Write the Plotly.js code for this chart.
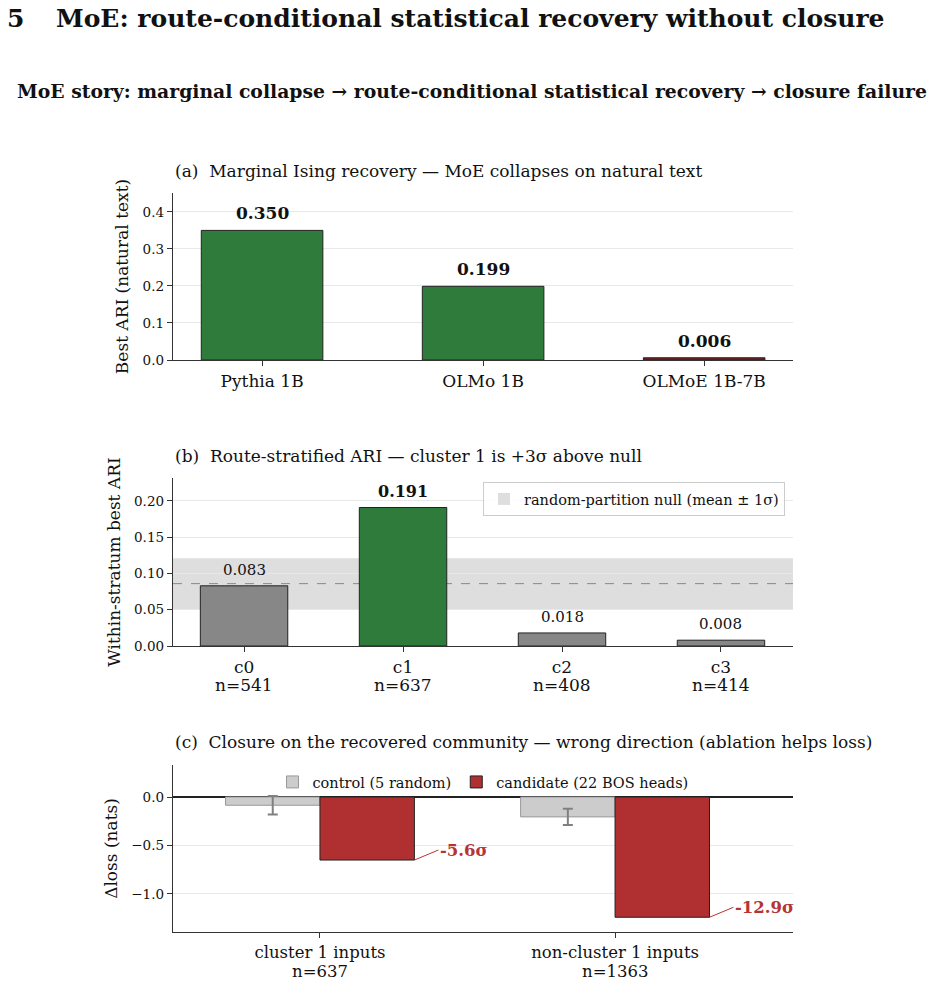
<!DOCTYPE html>
<html><head><meta charset="utf-8">
<script src="https://cdn.plot.ly/plotly-3.0.1.min.js"></script>
<style>html,body{margin:0;padding:0;background:#fff}</style>
</head><body><div id="chart" style="width:934px;height:983px"></div>
<script>
// ---- data ----
const modelNames = ['Pythia 1B', 'OLMo 1B', 'OLMoE 1B-7B'];
const marginalARI = [0.350, 0.199, 0.006];
const clusterNames = ['c0', 'c1', 'c2', 'c3'];
const clusterN = [541, 637, 408, 414];
const stratARI = [0.083, 0.191, 0.018, 0.008];
const nullMean = 0.086;
const nullSd = 0.035;
const inputGroups = ['cluster 1 inputs', 'non-cluster 1 inputs'];
const groupN = [637, 1363];
const controlLoss = [-0.085, -0.205];
const controlErr = [0.095, 0.083];
const candidateLoss = [-0.65, -1.24];
const candidateSigma = [-5.6, -12.9];

// ---- styles ----
const FONT = 'DejaVu Serif';
const GREEN = '#2e7b3b', GREY = '#878787', RED = '#b03031', DARKRED = '#7a1e1e', TXTRED = '#b83434';
const W = 934, H = 983;
const px = v => v / W, py = v => 1 - v / H;
const xDom = [px(173), px(793)];

const idx = a => a.map((_, i) => i);
const best = stratARI.indexOf(Math.max(...stratARI));

const traces = [
  { type: 'bar', x: idx(modelNames), y: marginalARI, xaxis: 'x', yaxis: 'y', width: 0.55,
    marker: { color: marginalARI.map((v, i) => i === modelNames.length - 1 ? DARKRED : GREEN), line: { color: '#222', width: 1 } },
    showlegend: false, hoverinfo: 'skip' },
  { type: 'bar', x: idx(clusterNames), y: stratARI, xaxis: 'x2', yaxis: 'y2', width: 0.55,
    marker: { color: stratARI.map((v, i) => i === best ? GREEN : GREY), line: { color: '#222', width: 1 } },
    showlegend: false, hoverinfo: 'skip' },
  { type: 'bar', x: idx(inputGroups), y: controlLoss, xaxis: 'x3', yaxis: 'y3', width: 0.32, offset: -0.32,
    name: 'control (5 random)', legend: 'legend2',
    marker: { color: '#cccccc', line: { color: '#999', width: 1 } },
    error_y: { type: 'data', array: controlErr, visible: true, color: '#808080', thickness: 2, width: 5 },
    hoverinfo: 'skip' },
  { type: 'bar', x: idx(inputGroups), y: candidateLoss, xaxis: 'x3', yaxis: 'y3', width: 0.32, offset: 0,
    name: 'candidate (22 BOS heads)', legend: 'legend2',
    marker: { color: RED, line: { color: '#222', width: 1 } },
    hoverinfo: 'skip' }
];

const baseX = {
  domain: xDom, showgrid: false, zeroline: false, showline: true, linecolor: '#333', linewidth: 1.2,
  ticks: 'outside', ticklen: 5, tickcolor: '#333', tickfont: { family: FONT, size: 17, color: '#111' }
};
const baseY = {
  showgrid: true, gridcolor: '#e8e8e8', gridwidth: 1, zeroline: false, showline: true, linecolor: '#333', linewidth: 1.2,
  ticks: 'outside', ticklen: 5, tickcolor: '#333', tickfont: { family: FONT, size: 13.5, color: '#111' }
};

const TT = { family: FONT, size: 17, color: '#111' };
const annotations = [
  { xref: 'paper', yref: 'paper', x: px(5), y: py(18), xanchor: 'left', yanchor: 'middle', showarrow: false,
    text: '<b>5</b>', font: { family: FONT, size: 25, color: '#111' } },
  { xref: 'paper', yref: 'paper', x: px(54), y: py(18), xanchor: 'left', yanchor: 'middle', showarrow: false,
    text: '<b>MoE: route-conditional statistical recovery without closure</b>',
    font: { family: FONT, size: 25, color: '#111' } },
  { xref: 'paper', yref: 'paper', x: px(472), y: py(91), xanchor: 'center', yanchor: 'middle', showarrow: false,
    text: '<b>MoE story: marginal collapse \u2192 route-conditional statistical recovery \u2192 closure failure</b>',
    font: { family: FONT, size: 18.8, color: '#111' } },
  { xref: 'paper', yref: 'paper', x: px(173), y: py(171), xanchor: 'left', yanchor: 'middle', showarrow: false,
    text: '(a)  Marginal Ising recovery \u2014 MoE collapses on natural text', font: TT },
  { xref: 'paper', yref: 'paper', x: px(173), y: py(456), xanchor: 'left', yanchor: 'middle', showarrow: false,
    text: '(b)  Route-stratified ARI \u2014 cluster 1 is +3\u03c3 above null', font: TT },
  { xref: 'paper', yref: 'paper', x: px(173), y: py(742), xanchor: 'left', yanchor: 'middle', showarrow: false,
    text: '(c)  Closure on the recovered community \u2014 wrong direction (ablation helps loss)', font: TT }
];
marginalARI.forEach((v, i) => annotations.push({
  xref: 'x', yref: 'y', x: i, y: v, yanchor: 'bottom', yshift: 5, showarrow: false,
  text: '<b>' + v.toFixed(3) + '</b>', font: { family: FONT, size: 17, color: '#111' } }));
stratARI.forEach((v, i) => annotations.push({
  xref: 'x2', yref: 'y2', x: i, y: v, yanchor: 'bottom', yshift: 5, showarrow: false,
  text: i === best ? '<b>' + v.toFixed(3) + '</b>' : v.toFixed(3), font: { family: FONT, size: i === best ? 16 : 15, color: '#111' } }));
clusterN.forEach((n, i) => annotations.push({
  xref: 'x2', yref: 'y2 domain', x: i, y: 0, yanchor: 'middle', yshift: -39, showarrow: false,
  text: 'n=' + n, font: { family: FONT, size: 17, color: '#111' } }));
groupN.forEach((n, i) => annotations.push({
  xref: 'x3', yref: 'y3 domain', x: i, y: 0, yanchor: 'middle', yshift: -39.5, showarrow: false,
  text: 'n=' + n, font: { family: FONT, size: 16.5, color: '#111' } }));
candidateSigma.forEach((s, i) => annotations.push({
  xref: 'x3', yref: 'y3', x: i + 0.32, y: candidateLoss[i], showarrow: true, arrowhead: 0, arrowwidth: 1, arrowcolor: TXTRED,
  ax: 24, ay: -10, xanchor: 'left', yanchor: 'middle',
  text: '<b>' + s.toFixed(1) + '\u03c3</b>', font: { family: FONT, size: 16.5, color: TXTRED } }));

const layout = {
  width: W, height: H, margin: { l: 0, r: 0, t: 0, b: 0 }, paper_bgcolor: '#fff', plot_bgcolor: '#fff',
  font: { family: FONT, color: '#111' }, barmode: 'overlay',
  xaxis: Object.assign({}, baseX, { anchor: 'y', range: [-0.403, 2.402], tickvals: idx(modelNames), ticktext: modelNames }),
  yaxis: Object.assign({}, baseY, { domain: [py(360), py(193)], anchor: 'x', range: [0, 0.451], dtick: 0.1, tickformat: '.1f',
    title: { text: 'Best ARI (natural text)', font: { family: FONT, size: 17 }, standoff: 9 } }),
  xaxis2: Object.assign({}, baseX, { anchor: 'y2', range: [-0.447, 3.453], tickvals: idx(clusterNames), ticktext: clusterNames }),
  yaxis2: Object.assign({}, baseY, { domain: [py(646), py(478)], anchor: 'x2', range: [0, 0.2317], dtick: 0.05, tickformat: '.2f',
    title: { text: 'Within-stratum best ARI', font: { family: FONT, size: 17 }, standoff: 9 } }),
  xaxis3: Object.assign({}, baseX, { anchor: 'y3', range: [-0.498, 1.603], tickvals: idx(inputGroups), ticktext: inputGroups,
    tickfont: { family: FONT, size: 16.5, color: '#111' } }),
  yaxis3: Object.assign({}, baseY, { domain: [py(932), py(765)], anchor: 'x3', range: [-1.392, 0.33], tickvals: [-1, -0.5, 0], tickformat: '.1f',
    zeroline: true, zerolinecolor: '#222', zerolinewidth: 1.2,
    title: { text: '\u0394loss (nats)', font: { family: FONT, size: 17 }, standoff: 9 } }),
  shapes: [
    { type: 'rect', xref: 'x2 domain', yref: 'y2', x0: 0, x1: 1, y0: nullMean - nullSd, y1: nullMean + nullSd,
      fillcolor: '#dedede', line: { width: 0 }, layer: 'below', showlegend: true, legend: 'legend',
      name: 'random-partition null (mean \u00b1 1\u03c3)' },
    { type: 'line', xref: 'x2 domain', yref: 'y2', x0: 0, x1: 1, y0: nullMean, y1: nullMean,
      line: { color: '#888', width: 1, dash: 'dash' }, layer: 'below' }
  ],
  legend: { x: px(785), xanchor: 'right', y: py(482), yanchor: 'top', bordercolor: '#ccc', borderwidth: 1,
    bgcolor: 'rgba(255,255,255,0.85)', font: { family: FONT, size: 14.5, color: '#111' } },
  legend2: { orientation: 'h', x: px(483), xanchor: 'center', y: py(782), yanchor: 'middle', bgcolor: 'rgba(0,0,0,0)',
    font: { family: FONT, size: 14.5, color: '#111' } },
  annotations: annotations
};

Plotly.newPlot('chart', traces, layout, { staticPlot: true, displayModeBar: false });
</script></body></html>
